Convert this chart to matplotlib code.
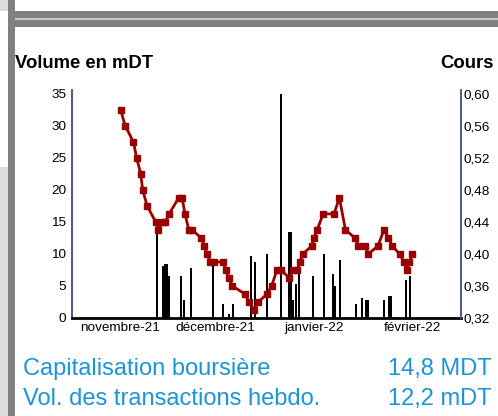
import matplotlib
matplotlib.use("Agg")
import matplotlib.pyplot as plt
from matplotlib.patches import Rectangle

plt.rcParams['font.family'] = ['Liberation Sans', 'DejaVu Sans']

# ---- data (x = days since 1 Nov 2021) ----
month_ticks = [0, 30, 61, 92]
month_labels = ["novembre-21", "décembre-21", "janvier-22", "février-22"]

price_day = [0.2, 1.6, 4.2, 5.2, 6.5, 7.1, 8.5, 11.2, 12.0, 13.4, 14.2, 15.4,
             18.4, 19.5, 20.4, 21.6, 22.6, 25.5, 26.5, 27.3, 28.4, 29.4, 32.2,
             33.3, 34.1, 35.3, 39.2, 40.5, 42.1, 43.4, 46.2, 47.6, 49.3, 50.5,
             53.2, 54.3, 55.7, 56.4, 57.4, 60.2, 60.9, 61.9, 63.8, 67.2, 68.9,
             70.8, 73.8, 74.9, 77.0, 78.0, 81.0, 82.9, 84.3, 85.5, 87.8, 89.2,
             90.0, 90.9, 91.8]
price = [0.58, 0.56, 0.54, 0.52, 0.50, 0.48, 0.46, 0.44, 0.43, 0.44, 0.44, 0.45,
         0.47, 0.47, 0.45, 0.43, 0.43, 0.42, 0.41, 0.40, 0.39, 0.39, 0.39,
         0.38, 0.37, 0.36, 0.35, 0.34, 0.33, 0.34, 0.35, 0.36, 0.38, 0.38,
         0.37, 0.38, 0.38, 0.39, 0.40, 0.41, 0.42, 0.43, 0.45, 0.45, 0.47,
         0.43, 0.42, 0.41, 0.41, 0.40, 0.41, 0.43, 0.42, 0.41, 0.40, 0.39,
         0.38, 0.39, 0.40]

vol_day = [11.5, 13.4, 14.0, 14.7, 15.3, 19.1, 20.2, 22.2, 29.1, 32.2, 34.1,
           35.5, 41.0, 42.4, 46.2, 50.5, 53.1, 53.7, 54.2, 55.4, 56.1, 60.5,
           64.1, 67.0, 67.6, 69.0, 74.0, 75.9, 77.2, 77.9, 82.8, 84.6, 85.2,
           89.7, 91.0]
volume = [13.1, 8.1, 8.4, 8.4, 6.6, 6.6, 2.8, 7.8, 8.1, 2.2, 0.7,
          2.2, 9.7, 8.8, 10.0, 35.0, 13.5, 13.5, 2.8, 5.3, 7.2, 6.6,
          10.0, 6.9, 5.0, 9.1, 2.2, 3.1, 2.8, 2.8, 2.8, 3.4, 3.4,
          5.9, 6.6]

vol_ticks = [0, 5, 10, 15, 20, 25, 30, 35]
price_ticks = [0.32, 0.36, 0.40, 0.44, 0.48, 0.52, 0.56, 0.60]
price_tick_labels = ["0,32", "0,36", "0,40", "0,44", "0,48", "0,52", "0,56", "0,60"]

left_title = "Volume en mDT"
right_title = "Cours"
info_labels = ["Capitalisation boursière", "Vol. des transactions hebdo."]
info_values = ["14,8 MDT", "12,2 mDT"]

# ---- figure ----
W, H = 498, 416
fig = plt.figure(figsize=(W / 100, H / 100), dpi=100)

def px_rect(x0, y0, x1, y1, color):
    fig.patches.append(Rectangle((x0 / W, 1 - y1 / H), (x1 - x0) / W, (y1 - y0) / H,
                                 transform=fig.transFigure, color=color, zorder=0, lw=0))

# decorative frame
px_rect(0, 0, 8, 11, "#dcdcdc")
px_rect(0, 167, 8, H, "#dcdcdc")
px_rect(8, 0, 15, H, "#808080")
px_rect(8, 11.5, W, 26.7, "#808080")
px_rect(15, 18.3, W, 20, "#c8c8c8")

ax = fig.add_axes([72 / W, 1 - 318 / H, (461 - 72) / W, (318 - 90) / H])
ax.bar(vol_day, volume, width=0.6, color="black", zorder=2)
ax.set_xlim(-15.1, 107.1)
ymax = 35.6
ax.set_ylim(0, ymax)
ax.set_yticks(vol_ticks)
ax.set_xticks(month_ticks)
ax.set_xticklabels(month_labels)
ax.tick_params(axis="both", length=0, labelsize=9.7)
ax.tick_params(axis="x", pad=3)
ax.tick_params(axis="y", pad=4)
ax.spines["top"].set_visible(False)
ax.spines["right"].set_visible(False)
ax.spines["left"].set_color("#3b4a8c")
ax.spines["left"].set_linewidth(1.3)
ax.spines["bottom"].set_color("black")
ax.spines["bottom"].set_linewidth(2)
ax.patch.set_alpha(0)

ax2 = ax.twinx()
ax2.set_ylim(0.32, 0.32 + 0.28 * ymax / 35)
ax2.plot(price_day, price, color="#990000", lw=2, marker="s", ms=4.2,
         markeredgecolor="#990000", zorder=3)
ax2.set_yticks(price_ticks)
ax2.set_yticklabels(price_tick_labels)
ax2.tick_params(axis="y", length=0, labelsize=9.7, pad=1.5)
for s in ["top", "left", "bottom"]:
    ax2.spines[s].set_visible(False)
ax2.spines["right"].set_color("#3b4a8c")
ax2.spines["right"].set_linewidth(1.3)

fig.text(15 / W, 1 - 68.3 / H, left_title, fontsize=13.3, fontweight="bold",
         ha="left", va="baseline")
fig.text(494 / W, 1 - 68.3 / H, right_title, fontsize=13.3, fontweight="bold",
         ha="right", va="baseline")

blue = "#1b95d6"
for i, (lab, val) in enumerate(zip(info_labels, info_values)):
    yb = 375 + 30 * i
    fig.text(23 / W, 1 - yb / H, lab, fontsize=17, color=blue, ha="left", va="baseline")
    fig.text(491.7 / W, 1 - yb / H, val, fontsize=17, color=blue, ha="right", va="baseline")

fig.savefig("out.png", dpi=100)
